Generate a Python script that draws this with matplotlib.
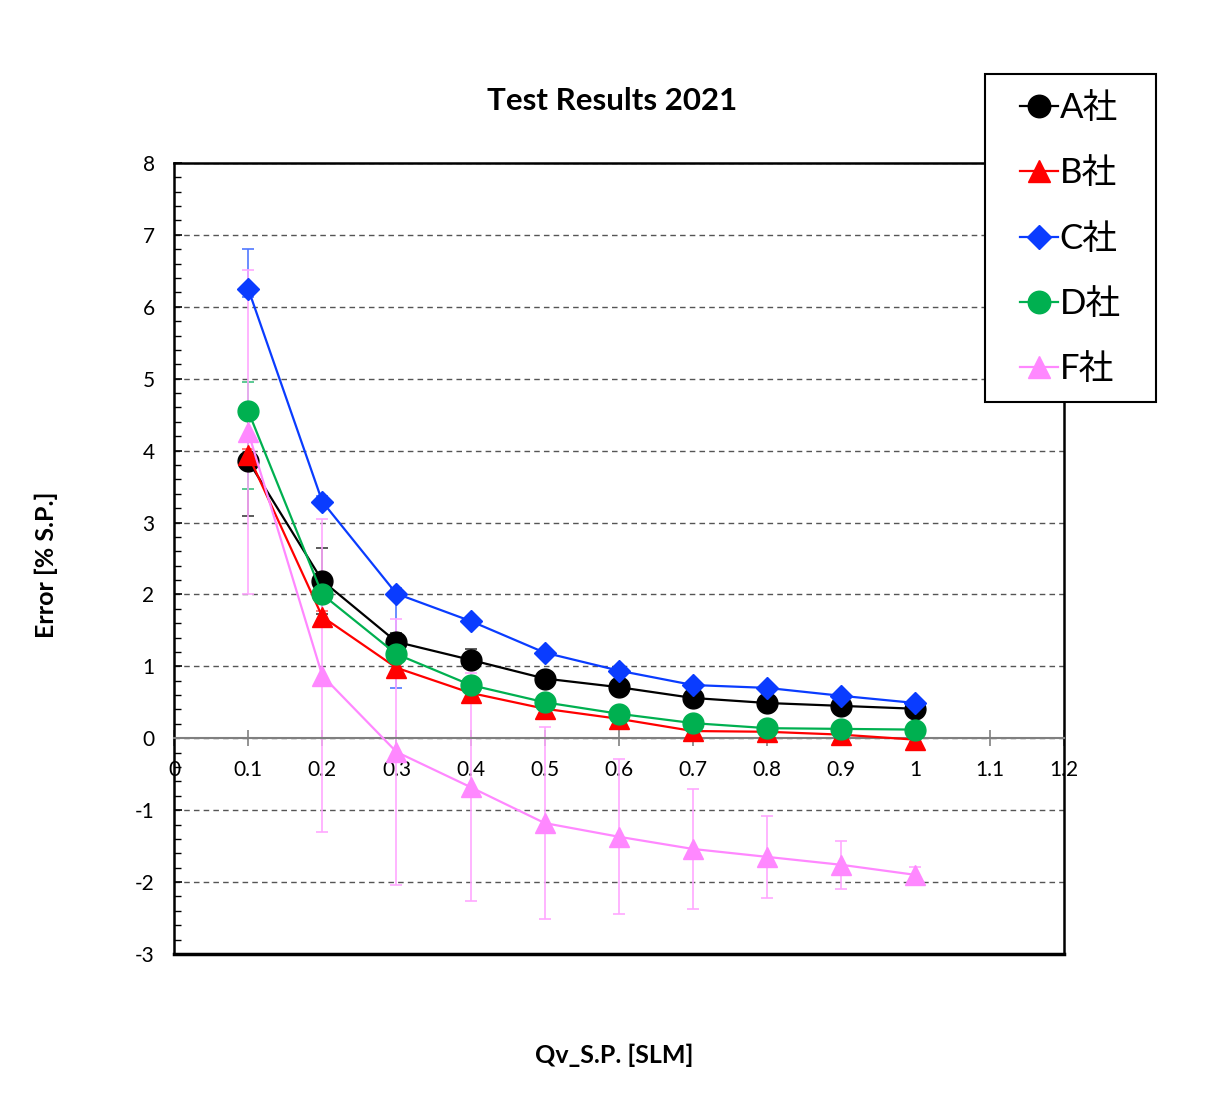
import numpy as np
import matplotlib
matplotlib.use('Agg')
import matplotlib.pyplot as plt
from matplotlib.ticker import MultipleLocator
from matplotlib.patches import Rectangle

plt.rcParams['font.family'] = ['Lato', 'Noto Sans CJK JP', 'DejaVu Sans']
plt.rcParams['axes.unicode_minus'] = False

qv = [0.1, 0.2, 0.3, 0.4, 0.5, 0.6, 0.7, 0.8, 0.9, 1.0]

a_val = [3.86, 2.19, 1.34, 1.09, 0.83, 0.71, 0.56, 0.49, 0.45, 0.41]
b_val = [3.94, 1.69, 0.98, 0.63, 0.41, 0.27, 0.10, 0.09, 0.05, -0.02]
c_val = [6.25, 3.29, 2.01, 1.63, 1.19, 0.94, 0.74, 0.70, 0.59, 0.49]
d_val = [4.55, 2.00, 1.17, 0.74, 0.50, 0.34, 0.21, 0.14, 0.13, 0.12]
f_val = [4.26, 0.87, -0.19, -0.68, -1.18, -1.37, -1.54, -1.65, -1.76, -1.90]

# error bars (lower, upper)
a_lo = [0.77, 0.46, 0.12, 0.12, 0.05, 0.05, 0.03, 0.03, 0.03, 0.03]
a_hi = [0.77, 0.46, 0.12, 0.15, 0.05, 0.05, 0.03, 0.03, 0.03, 0.03]
b_lo = [0.08, 0.08, 0.05, 0.05, 0.04, 0.04, 0.03, 0.03, 0.03, 0.03]
b_hi = [0.08, 0.08, 0.05, 0.05, 0.04, 0.04, 0.03, 0.03, 0.03, 0.03]
c_lo = [0.12, 0.08, 1.31, 0.06, 0.05, 0.04, 0.04, 0.03, 0.03, 0.03]
c_hi = [0.56, 0.08, 0.08, 0.06, 0.05, 0.04, 0.04, 0.03, 0.03, 0.03]
d_lo = [1.09, 0.08, 0.06, 0.05, 0.04, 0.04, 0.03, 0.03, 0.03, 0.03]
d_hi = [0.41, 0.08, 0.06, 0.05, 0.04, 0.04, 0.03, 0.03, 0.03, 0.03]
f_err = [2.25, 2.18, 1.85, 1.59, 1.33, 1.08, 0.83, 0.57, 0.33, 0.11]

labels = ['A社', 'B社', 'C社', 'D社', 'F社']
xlabels = ['0', '0.1', '0.2', '0.3', '0.4', '0.5', '0.6', '0.7', '0.8', '0.9', '1', '1.1', '1.2']

fig = plt.figure(figsize=(12.17, 11.04), dpi=100)
ax = fig.add_axes([0.143, 0.1359, 0.731, 0.7165])

series = [
    (a_val, a_lo, a_hi, 'black', '#404040', 'o', 15),
    (b_val, b_lo, b_hi, '#FF0000', '#FF6060', '^', 15),
    (c_val, c_lo, c_hi, '#0A3CFF', '#5078FF', 'D', 11),
    (d_val, d_lo, d_hi, '#00B050', '#40C080', 'o', 15),
    (f_val, f_err, f_err, '#FF88FF', '#FFA8FF', '^', 15),
]

handles = []
for i, (v, lo, hi, col, ecol, mk, ms) in enumerate(series):
    ax.errorbar(qv, v, yerr=[lo, hi], fmt='none', ecolor=ecol, elinewidth=1.2,
                capsize=4, capthick=1.2, zorder=2 + i * 0.1)
    h, = ax.plot(qv, v, color=col, lw=1.6, marker=mk, ms=ms, mfc=col, mec=col,
                 zorder=3 + i * 0.1, label=labels[i])
    handles.append(h)

ax.set_xlim(0, 1.2)
ax.set_ylim(-3, 8)
ax.set_xticks(np.round(np.arange(0, 1.21, 0.1), 1))
ax.set_xticklabels(xlabels)
ax.yaxis.set_major_locator(MultipleLocator(1))
ax.yaxis.set_minor_locator(MultipleLocator(0.2))

ax.grid(axis='y', which='major', color='#555555', ls=(0, (4, 3)), lw=1)

ax.spines['bottom'].set_position(('data', 0))
ax.spines['bottom'].set_color('#808080')
ax.spines['bottom'].set_linewidth(1.5)
for s in ['left', 'right', 'top']:
    ax.spines[s].set_color('black')
    ax.spines[s].set_linewidth(1.8)
ax.axhline(-3, color='black', lw=2.5, clip_on=False, zorder=5)

ax.tick_params(axis='x', direction='inout', length=11, width=1.2, color='#808080',
               labelsize=15, pad=10)
ax.tick_params(axis='y', which='major', direction='in', length=6, width=1.2,
               labelsize=15, pad=14)
ax.tick_params(axis='y', which='minor', direction='in', length=5, width=1)

ax.set_title('Test Results 2021', fontsize=22.5, fontweight='bold', pad=38, x=0.493)
ax.set_xlabel('Qv_S.P. [SLM]', fontsize=18, fontweight='bold')
ax.xaxis.set_label_coords(0.495, -0.113)
ax.set_ylabel('Error [% S.P.]', fontsize=18, fontweight='bold')
ax.yaxis.set_label_coords(-0.13, 0.492)

# legend box
fig.patches.append(Rectangle((0.8094, 0.6359), 0.1405, 0.2971, transform=fig.transFigure,
                             facecolor='white', edgecolor='black', lw=1.5, zorder=4))
fig.legend(handles=handles, loc='upper left', bbox_to_anchor=(0.838, 0.9166),
           fontsize=25, frameon=False, handlelength=1.1, handletextpad=0.05,
           labelspacing=0.96, borderpad=0, borderaxespad=0, markerscale=1.08)

fig.savefig('out.png', dpi=100)
